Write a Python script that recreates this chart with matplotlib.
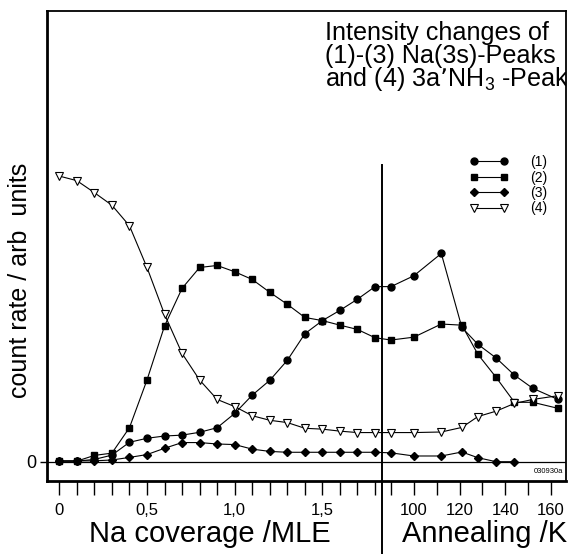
import matplotlib
matplotlib.use("Agg")
import matplotlib.pyplot as plt
from matplotlib.legend_handler import HandlerLine2D

plt.rcParams['font.family'] = ['Liberation Sans', 'DejaVu Sans']
plt.rcParams['mathtext.default'] = 'regular'

# Data (count rate, arb. units)
coverage = [0.0, 0.1, 0.2, 0.3, 0.4, 0.5, 0.6, 0.7, 0.8, 0.9,
            1.0, 1.1, 1.2, 1.3, 1.4, 1.5, 1.6, 1.7, 1.8]
anneal_T = [90, 100, 112, 121, 128, 136, 144, 152, 163]

s1_cov = [0.02, 0.02, 0.08, 0.23, 0.68, 0.82, 0.90, 0.93, 1.03, 1.19,
          1.69, 2.33, 2.85, 3.55, 4.48, 4.94, 5.30, 5.69, 6.13]
s1_ann = [6.13, 6.51, 7.29, 4.70, 4.11, 3.63, 3.03, 2.57, 2.18]

s2_cov = [0.02, 0.02, 0.22, 0.30, 1.19, 2.86, 4.75, 6.07, 6.80, 6.87,
          6.65, 6.38, 5.93, 5.51, 5.05, 4.94, 4.78, 4.63, 4.34]
s2_ann = [4.26, 4.36, 4.82, 4.78, 3.76, 2.95, 2.08, 2.08, 1.87]

s3_cov = [0.03, 0.03, 0.03, 0.06, 0.15, 0.25, 0.47, 0.67, 0.67, 0.62,
          0.60, 0.44, 0.36, 0.33, 0.33, 0.33, 0.33, 0.33, 0.33]
s3_ann = [0.31, 0.20, 0.20, 0.34, 0.14, 0.0, 0.0]

s4_cov = [10.0, 9.84, 9.42, 8.98, 8.26, 6.80, 5.16, 3.79, 2.86, 2.18,
          1.93, 1.61, 1.45, 1.37, 1.17, 1.14, 1.07, 1.02, 1.02]
s4_ann = [1.02, 1.02, 1.04, 1.20, 1.58, 1.77, 2.04, 2.18, 2.31]

cov_ticks = [0.0, 0.5, 1.0, 1.5]
cov_ticklabels = ['0', '0,5', '1,0', '1,5']
T_ticks = [100, 120, 140, 160]
T_minor = [90, 110, 130, 150]


# annealing temperature -> position on the shared x axis
def tpos(T):
    return 1.891 + 0.013032 * (T - 90)


divider = 1.838

fig = plt.figure(figsize=(5.73, 5.54), dpi=100)
ax = fig.add_axes([0.0825, 0.1318, 0.9048, 0.8489])

styles = [
    dict(marker='o', ms=5, mfc='black'),
    dict(marker='s', ms=5, mfc='black'),
    dict(marker='D', ms=3.6, mfc='black'),
    dict(marker='v', ms=6, mfc='white', mew=0.8),
]
labels = ['(1)', '(2)', '(3)', '(4)']
series = [(s1_cov, s1_ann), (s2_cov, s2_ann), (s3_cov, s3_ann), (s4_cov, s4_ann)]

handles = []
for (yc, ya), st, lab in zip(series, styles, labels):
    xs = list(coverage[:len(yc)]) + [tpos(t) for t in anneal_T[:len(ya)]]
    ys = list(yc) + list(ya)
    h, = ax.plot(xs, ys, color='black', lw=0.8, mec='black', label=lab, **st)
    handles.append(h)

ax.axhline(0, color='black', lw=0.9)
ax.plot([divider, divider], [-3.4, 10.38], color='black', lw=1.4, clip_on=False)

ax.set_xlim(-0.0684, 2.887)
ax.set_ylim(-0.675, 15.79)

# x ticks
major = cov_ticks + [tpos(t) for t in T_ticks]
ax.set_xticks(major)
ax.set_xticklabels(cov_ticklabels + [str(t) for t in T_ticks], fontsize=12)
minor = [c for c in coverage if c not in cov_ticks] + [tpos(t) for t in T_minor]
ax.set_xticks(minor, minor=True)
ax.tick_params(axis='x', which='both', direction='out', length=10, width=1.0, pad=6)

ax.set_yticks([0])
ax.set_yticklabels(['0'], fontsize=13)
ax.tick_params(axis='y', direction='out', length=5, width=1.0, pad=3)

for side in ['left', 'bottom']:
    ax.spines[side].set_linewidth(2.0)
for side in ['top', 'right']:
    ax.spines[side].set_linewidth(1.3)

# title block (clipped by the frame like the original)
title_lines = ['Intensity changes of', '(1)-(3) Na(3s)-Peaks', 'and (4) 3a\u2019NH$_3$ -Peak']
for i, line in enumerate(title_lines):
    ax.text(0.5357, 0.9377 - i * 0.049, line, transform=ax.transAxes,
            fontsize=18.1, va='baseline', ha='left', clip_on=True)

ax.text(0.995, 0.013, '030930a', transform=ax.transAxes, fontsize=5.5,
        ha='right', va='bottom')

ax.legend(handles=handles, loc='upper left', bbox_to_anchor=(0.7994, 0.6925),
          frameon=False, fontsize=10, handlelength=3.9, handletextpad=1.05,
          labelspacing=0.1, borderpad=0, borderaxespad=0,
          handler_map={h: HandlerLine2D(numpoints=2, marker_pad=0.85) for h in handles})

fig.text(0.3665, 0.022, 'Na coverage /MLE', fontsize=21, ha='center', va='baseline')
fig.text(0.845, 0.022, 'Annealing /K', fontsize=21, ha='center', va='baseline')
fig.text(0.035, 0.4946, 'count rate / arb  units', fontsize=18, rotation=90,
         ha='center', va='center')

fig.savefig('out.png', dpi=100)
